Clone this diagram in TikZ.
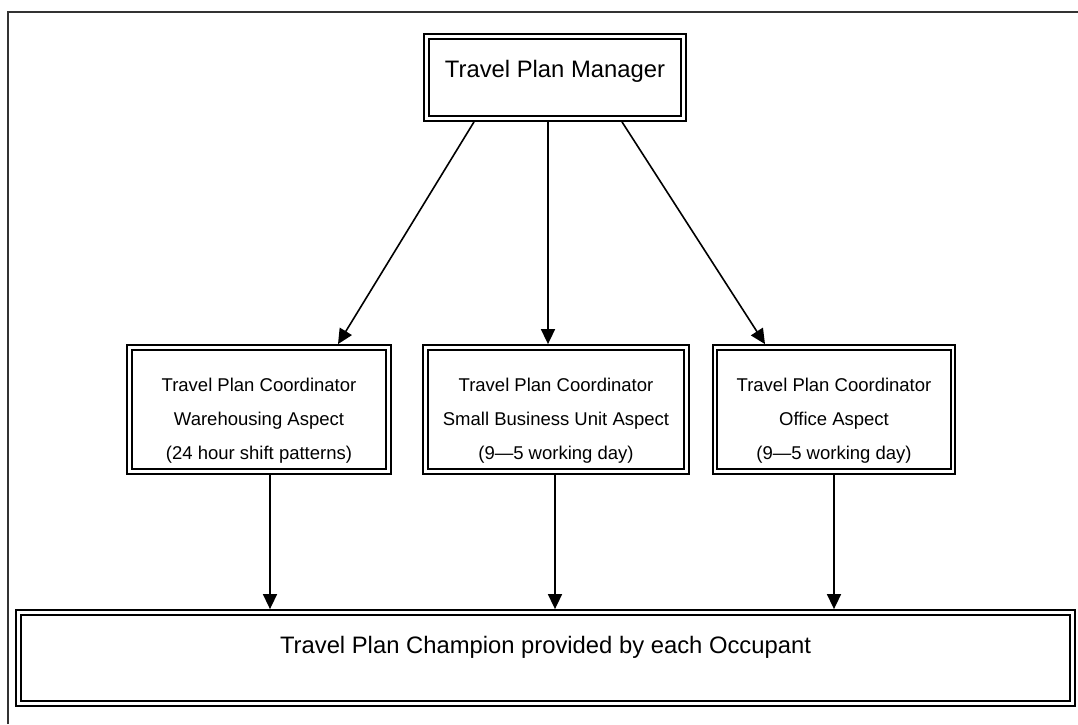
\documentclass[tikz,border=0pt]{standalone}
\usepackage{fontspec}
\setmainfont{Liberation Sans}
\usetikzlibrary{arrows.meta}
\tikzset{
  dbox/.style={draw, line width=2.3pt, double=white, double distance=2.2pt,
    inner sep=0pt, outer sep=3.4pt, minimum width=#1},
  bigtxt/.style={font=\fontsize{23.8}{28}\selectfont, inner sep=0pt, anchor=base},
  smalltxt/.style={font=\fontsize{18.5}{34}\selectfont, inner sep=0pt, anchor=base, align=center},
  conn/.style={line width=1.6pt, -{Triangle[length=15pt,width=14pt]}},
  frame/.style={black!80, line width=1.4pt}
}
\begin{document}
\begin{tikzpicture}[x=1pt,y=-1pt]
\useasboundingbox (0,0) rectangle (1078,724);
\draw[frame] (8,724) -- (8,12) -- (1078,12);

% boxes
\node[dbox=257pt, minimum height=82pt] (mgr) at (555,77.5) {};
\node[dbox=259pt, minimum height=124pt] (c1) at (259,409.5) {};
\node[dbox=261pt, minimum height=124pt] (c2) at (556,409.5) {};
\node[dbox=238pt, minimum height=124pt] (c3) at (834,409.5) {};
\node[dbox=1054pt, minimum height=91pt] (champ) at (545.5,658) {};

% texts (base anchor = baseline of the last line)
\node[bigtxt] (tmgr) at (555,77) {Travel Plan Manager};
\node[smalltxt] (t1) at (259,459) {Travel Plan Coordinator\\Warehousing Aspect\\(24 hour shift patterns)};
\node[smalltxt] (t2) at (556,459) {Travel Plan Coordinator\\Small Business Unit Aspect\\(9\textemdash5 working day)};
\node[smalltxt] (t3) at (834,459) {Travel Plan Coordinator\\Office Aspect\\(9\textemdash5 working day)};
\node[bigtxt] (tchamp) at (545.5,653) {Travel Plan Champion provided by each Occupant};

% connectors
\draw[conn] ([xshift=-81pt]mgr.south) -- ([xshift=79pt]c1.north);
\draw[conn] ([xshift=-7pt]mgr.south) -- ([xshift=-8pt]c2.north);
\draw[conn] ([xshift=67pt]mgr.south) -- ([xshift=-69pt]c3.north);
\draw[conn] ([xshift=11pt]c1.south) -- ([xshift=-275.5pt]champ.north);
\draw[conn] ([xshift=-1pt]c2.south) -- ([xshift=9.5pt]champ.north);
\draw[conn] (c3.south) -- ([xshift=288.5pt]champ.north);
\end{tikzpicture}
\end{document}
